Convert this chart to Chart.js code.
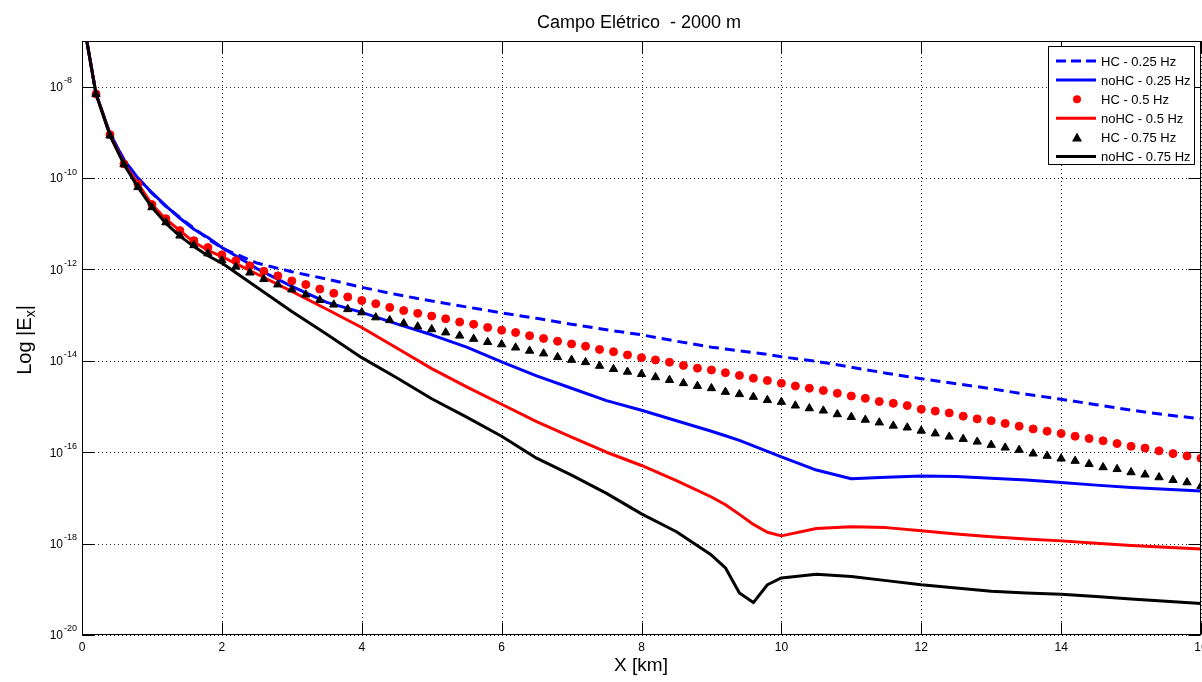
<!DOCTYPE html>
<html lang="pt">
<head>
<meta charset="UTF-8">
<title>Campo Elétrico - 2000 m</title>
<script src="https://cdn.jsdelivr.net/npm/chart.js"></script>
<style>
    html, body { margin: 0; padding: 0; background: #fff; }
    #wrap { width: 1202px; height: 682px; }
</style>
</head>
<body>
<div id="wrap"><canvas id="chart" width="1202" height="682"></canvas></div>
<script>
// distance along the profile (km)
const xMarkers = [0,
    0.2, 0.4, 0.6, 0.8, 1.0, 1.2, 1.4, 1.6, 1.8, 2.0,
    2.2, 2.4, 2.6, 2.8, 3.0, 3.2, 3.4, 3.6, 3.8, 4.0,
    4.2, 4.4, 4.6, 4.8, 5.0, 5.2, 5.4, 5.6, 5.8, 6.0,
    6.2, 6.4, 6.6, 6.8, 7.0, 7.2, 7.4, 7.6, 7.8, 8.0,
    8.2, 8.4, 8.6, 8.8, 9.0, 9.2, 9.4, 9.6, 9.8, 10.0,
    10.2, 10.4, 10.6, 10.8, 11.0, 11.2, 11.4, 11.6, 11.8, 12.0,
    12.2, 12.4, 12.6, 12.8, 13.0, 13.2, 13.4, 13.6, 13.8, 14.0,
    14.2, 14.4, 14.6, 14.8, 15.0, 15.2, 15.4, 15.6, 15.8, 16.0];
const xLines = [0, 0.2, 0.4, 0.6, 0.8, 1, 1.2, 1.4, 1.6, 1.8, 2,
    2.5, 3, 3.5, 4, 4.5, 5, 5.5, 6, 6.5, 7, 7.5, 8, 8.5, 9,
    9.2, 9.4, 9.6, 9.8,
    10, 10.5, 11, 11.5, 12, 12.5, 13, 13.5, 14, 14.5, 15, 15.5, 16];

// log10 |Ex|
const hc025 = [-6.4, -8.15, -9.03, -9.60, -10.0, -10.33, -10.62, -10.86, -11.1, -11.33, -11.53,
    -11.86, -12.05, -12.21, -12.39, -12.55, -12.69, -12.82, -12.95, -13.07, -13.2, -13.32, -13.43, -13.57, -13.7,
    -13.74, -13.78, -13.82, -13.86,
    -13.91, -14.01, -14.14, -14.27, -14.39, -14.5, -14.61, -14.73, -14.84, -14.96, -15.08, -15.18, -15.27];
const nohc025 = [-6.4, -8.15, -9.03, -9.60, -10.0, -10.32, -10.61, -10.88, -11.12, -11.30, -11.52,
    -11.98, -12.37, -12.72, -12.94, -13.19, -13.43, -13.70, -14.02, -14.33, -14.60, -14.87, -15.08, -15.31, -15.54,
    -15.64, -15.74, -15.86, -15.98,
    -16.1, -16.39, -16.58, -16.55, -16.52, -16.53, -16.57, -16.61, -16.66, -16.72, -16.77, -16.81, -16.85];
const nohc05 = [-6.4, -8.15, -9.05, -9.68, -10.12, -10.58, -10.90, -11.15, -11.40, -11.58, -11.72,
    -12.10, -12.48, -12.87, -13.27, -13.72, -14.17, -14.57, -14.95, -15.33, -15.67, -16.0, -16.29, -16.62, -16.98,
    -17.15, -17.36, -17.58, -17.75,
    -17.83, -17.67, -17.63, -17.65, -17.72, -17.79, -17.85, -17.9, -17.94, -17.99, -18.04, -18.08, -18.12];
const nohc075 = [-6.4, -8.16, -9.07, -9.70, -10.2, -10.64, -10.99, -11.27, -11.50, -11.70, -11.86,
    -12.39, -12.92, -13.42, -13.93, -14.37, -14.83, -15.23, -15.65, -16.13, -16.50, -16.90, -17.35, -17.74, -18.25,
    -18.53, -19.08, -19.29, -18.90,
    -18.75, -18.67, -18.72, -18.81, -18.90, -18.97, -19.04, -19.08, -19.11, -19.16, -19.21, -19.26, -19.31];
const hc05 = [-6.4,
    -8.16, -9.05, -9.69, -10.13, -10.58, -10.89, -11.15, -11.37, -11.52, -11.68,
    -11.81, -11.92, -12.04, -12.14, -12.25, -12.33, -12.43, -12.52, -12.60, -12.68,
    -12.75, -12.83, -12.90, -12.96, -13.02, -13.08, -13.15, -13.20, -13.27, -13.33,
    -13.38, -13.45, -13.51, -13.57, -13.63, -13.68, -13.75, -13.80, -13.87, -13.93,
    -13.98, -14.03, -14.10, -14.16, -14.20, -14.26, -14.32, -14.38, -14.43, -14.49,
    -14.55, -14.60, -14.65, -14.71, -14.77, -14.82, -14.89, -14.93, -14.98, -15.06,
    -15.10, -15.14, -15.21, -15.27, -15.31, -15.37, -15.43, -15.49, -15.54, -15.59,
    -15.65, -15.70, -15.75, -15.81, -15.87, -15.91, -15.97, -16.03, -16.08, -16.13];
const hc075 = [-6.4,
    -8.16, -9.07, -9.70, -10.20, -10.64, -10.97, -11.26, -11.47, -11.65, -11.80,
    -11.94, -12.07, -12.21, -12.33, -12.44, -12.55, -12.67, -12.77, -12.87, -12.94,
    -13.05, -13.11, -13.18, -13.25, -13.31, -13.38, -13.45, -13.52, -13.59, -13.64,
    -13.71, -13.78, -13.84, -13.92, -13.98, -14.03, -14.11, -14.18, -14.24, -14.29,
    -14.36, -14.42, -14.49, -14.55, -14.60, -14.68, -14.73, -14.79, -14.86, -14.90,
    -14.98, -15.04, -15.09, -15.17, -15.23, -15.29, -15.35, -15.42, -15.46, -15.53,
    -15.59, -15.66, -15.71, -15.77, -15.84, -15.90, -15.95, -16.03, -16.08, -16.14,
    -16.19, -16.26, -16.33, -16.37, -16.44, -16.49, -16.55, -16.61, -16.66, -16.74];

const xTicks = [0, 2, 4, 6, 8, 10, 12, 14, 16];
const yTickExps = [-20, -18, -16, -14, -12, -10, -8];

const FONT = '"Liberation Sans", Arial, Helvetica, sans-serif';
const TICK = 12;

const toPts = (xs, ls) => xs.map((x, i) => ({ x: x, y: Math.pow(10, ls[i]) }));

const datasets = [
    { label: 'HC - 0.25 Hz', data: toPts(xLines, hc025), borderColor: '#0000ff', borderWidth: 3,
      borderDash: [10, 6], pointRadius: 0, order: 6, kind: 'dash' },
    { label: 'noHC - 0.25 Hz', data: toPts(xLines, nohc025), borderColor: '#0000ff', borderWidth: 3,
      pointRadius: 0, order: 5, kind: 'line' },
    { label: 'HC - 0.5 Hz', data: toPts(xMarkers, hc05), showLine: false, pointStyle: 'circle',
      pointRadius: 4, backgroundColor: '#ff0000', borderColor: '#ff0000', pointBorderWidth: 1, order: 4, kind: 'dot' },
    { label: 'noHC - 0.5 Hz', data: toPts(xLines, nohc05), borderColor: '#ff0000', borderWidth: 3,
      pointRadius: 0, order: 3, kind: 'line' },
    { label: 'HC - 0.75 Hz', data: toPts(xMarkers, hc075), showLine: false, pointStyle: 'triangle',
      pointRadius: 4.8, backgroundColor: '#000000', borderColor: '#000000', pointBorderWidth: 1, order: 2, kind: 'tri' },
    { label: 'noHC - 0.75 Hz', data: toPts(xLines, nohc075), borderColor: '#000000', borderWidth: 3,
      pointRadius: 0, order: 1, kind: 'line' }
];

// dotted grid under the data
const grid = {
    id: 'grid',
    beforeDatasetsDraw(chart) {
        const { ctx, chartArea: a, scales: { x, y } } = chart;
        ctx.save();
        ctx.strokeStyle = '#222';
        ctx.lineWidth = 1;
        ctx.setLineDash([1, 3]);
        ctx.beginPath();
        xTicks.forEach(v => {
            const px = Math.round(x.getPixelForValue(v)) + 0.5;
            ctx.moveTo(px, a.top); ctx.lineTo(px, a.bottom);
        });
        yTickExps.forEach(e => {
            const py = Math.round(y.getPixelForValue(Math.pow(10, e))) + 0.5;
            ctx.moveTo(a.left, py); ctx.lineTo(a.right, py);
        });
        ctx.stroke();
        ctx.restore();
    }
};

// frame, inward ticks, labels, titles and legend
const decor = {
    id: 'decor',
    afterDraw(chart) {
        const { ctx, chartArea: a, scales: { x, y } } = chart;
        const L = Math.round(a.left) + 0.5, R = Math.round(a.right) - 0.5;
        const T = Math.round(a.top) + 0.5, B = Math.round(a.bottom) - 0.5;
        ctx.save();
        ctx.strokeStyle = '#000';
        ctx.lineWidth = 1;
        ctx.setLineDash([]);
        ctx.strokeRect(L, T, R - L, B - T);

        ctx.beginPath();
        xTicks.forEach(v => {
            const px = Math.round(x.getPixelForValue(v)) + 0.5;
            ctx.moveTo(px, B); ctx.lineTo(px, B - TICK);
            ctx.moveTo(px, T); ctx.lineTo(px, T + TICK);
        });
        yTickExps.forEach(e => {
            const py = Math.round(y.getPixelForValue(Math.pow(10, e))) + 0.5;
            ctx.moveTo(L, py); ctx.lineTo(L + TICK, py);
            ctx.moveTo(R, py); ctx.lineTo(R - TICK, py);
        });
        ctx.stroke();

        ctx.fillStyle = '#000';
        // x tick labels
        ctx.font = '12px ' + FONT;
        ctx.textAlign = 'center';
        ctx.textBaseline = 'middle';
        xTicks.forEach(v => {
            ctx.fillText(String(v), x.getPixelForValue(v), a.bottom + 13);
        });

        // y tick labels 10^e
        yTickExps.forEach(e => {
            const py = y.getPixelForValue(Math.pow(10, e));
            ctx.font = '12px ' + FONT;
            ctx.textAlign = 'right';
            ctx.textBaseline = 'middle';
            ctx.fillText('10', a.left - 19, py + 1);
            ctx.font = '9px ' + FONT;
            ctx.textAlign = 'left';
            ctx.fillText(String(e), a.left - 18, py - 6);
        });

        // title
        ctx.font = '18px ' + FONT;
        ctx.textAlign = 'center';
        ctx.textBaseline = 'middle';
        ctx.fillText('Campo Elétrico  - 2000 m', 639, 23);

        // x axis title
        ctx.font = '19px ' + FONT;
        ctx.fillText('X [km]', 641, 666);

        // y axis title: Log |E_x|
        ctx.save();
        ctx.translate(25, 340);
        ctx.rotate(-Math.PI / 2);
        const big = '20px ' + FONT, small = '14px ' + FONT;
        ctx.font = big;
        const w1 = ctx.measureText('Log |E').width;
        const w3 = ctx.measureText('|').width;
        ctx.font = small;
        const w2 = ctx.measureText('x').width;
        let cx = -(w1 + w2 + w3) / 2;
        ctx.textAlign = 'left';
        ctx.textBaseline = 'middle';
        ctx.font = big;
        ctx.fillText('Log |E', cx, 0);
        cx += w1;
        ctx.font = small;
        ctx.fillText('x', cx, 6);
        cx += w2;
        ctx.font = big;
        ctx.fillText('|', cx, 0);
        ctx.restore();

        // legend
        const bx = 1048.5, by = 46.5, bw = 146, bh = 118;
        ctx.fillStyle = '#fff';
        ctx.fillRect(bx, by, bw, bh);
        ctx.strokeStyle = '#000';
        ctx.lineWidth = 1;
        ctx.strokeRect(bx, by, bw, bh);
        ctx.font = '13px ' + FONT;
        ctx.textAlign = 'left';
        ctx.textBaseline = 'middle';
        chart.data.datasets.forEach((ds, i) => {
            const yy = 61 + i * 19.1;
            const x0 = 1056, x1 = 1096, xm = 1077;
            ctx.save();
            if (ds.kind === 'dash' || ds.kind === 'line') {
                ctx.strokeStyle = ds.borderColor;
                ctx.lineWidth = 3;
                ctx.setLineDash(ds.kind === 'dash' ? [10, 5] : []);
                ctx.beginPath();
                ctx.moveTo(x0, yy); ctx.lineTo(x1, yy);
                ctx.stroke();
            } else if (ds.kind === 'dot') {
                ctx.fillStyle = ds.backgroundColor;
                ctx.beginPath();
                ctx.arc(xm, yy, 4, 0, Math.PI * 2);
                ctx.fill();
            } else {
                ctx.fillStyle = ds.backgroundColor;
                ctx.beginPath();
                ctx.moveTo(xm, yy - 5);
                ctx.lineTo(xm + 5, yy + 4);
                ctx.lineTo(xm - 5, yy + 4);
                ctx.closePath();
                ctx.fill();
            }
            ctx.restore();
            ctx.fillStyle = '#000';
            ctx.fillText(ds.label, 1101, yy + 1);
        });
        ctx.restore();
    }
};

new Chart(document.getElementById('chart'), {
    type: 'line',
    data: { datasets: datasets },
    options: {
        responsive: false,
        animation: false,
        layout: { autoPadding: false, padding: { left: 82, top: 41, right: 1, bottom: 47 } },
        elements: { line: { tension: 0, fill: false, borderJoinStyle: 'round' } },
        plugins: {
            legend: { display: false },
            title: { display: false },
            tooltip: { enabled: false }
        },
        scales: {
            x: {
                type: 'linear',
                min: 0,
                max: 16,
                ticks: { display: false, stepSize: 2 },
                grid: { display: false, drawTicks: false, tickLength: 0 },
                border: { display: false }
            },
            y: {
                type: 'logarithmic',
                min: 1e-20,
                max: 1e-7,
                afterBuildTicks: axis => {
                    axis.ticks = yTickExps.map(e => ({ value: Math.pow(10, e) }));
                },
                ticks: { display: false },
                grid: { display: false, drawTicks: false, tickLength: 0 },
                border: { display: false }
            }
        }
    },
    plugins: [grid, decor]
});
</script>
</body>
</html>
